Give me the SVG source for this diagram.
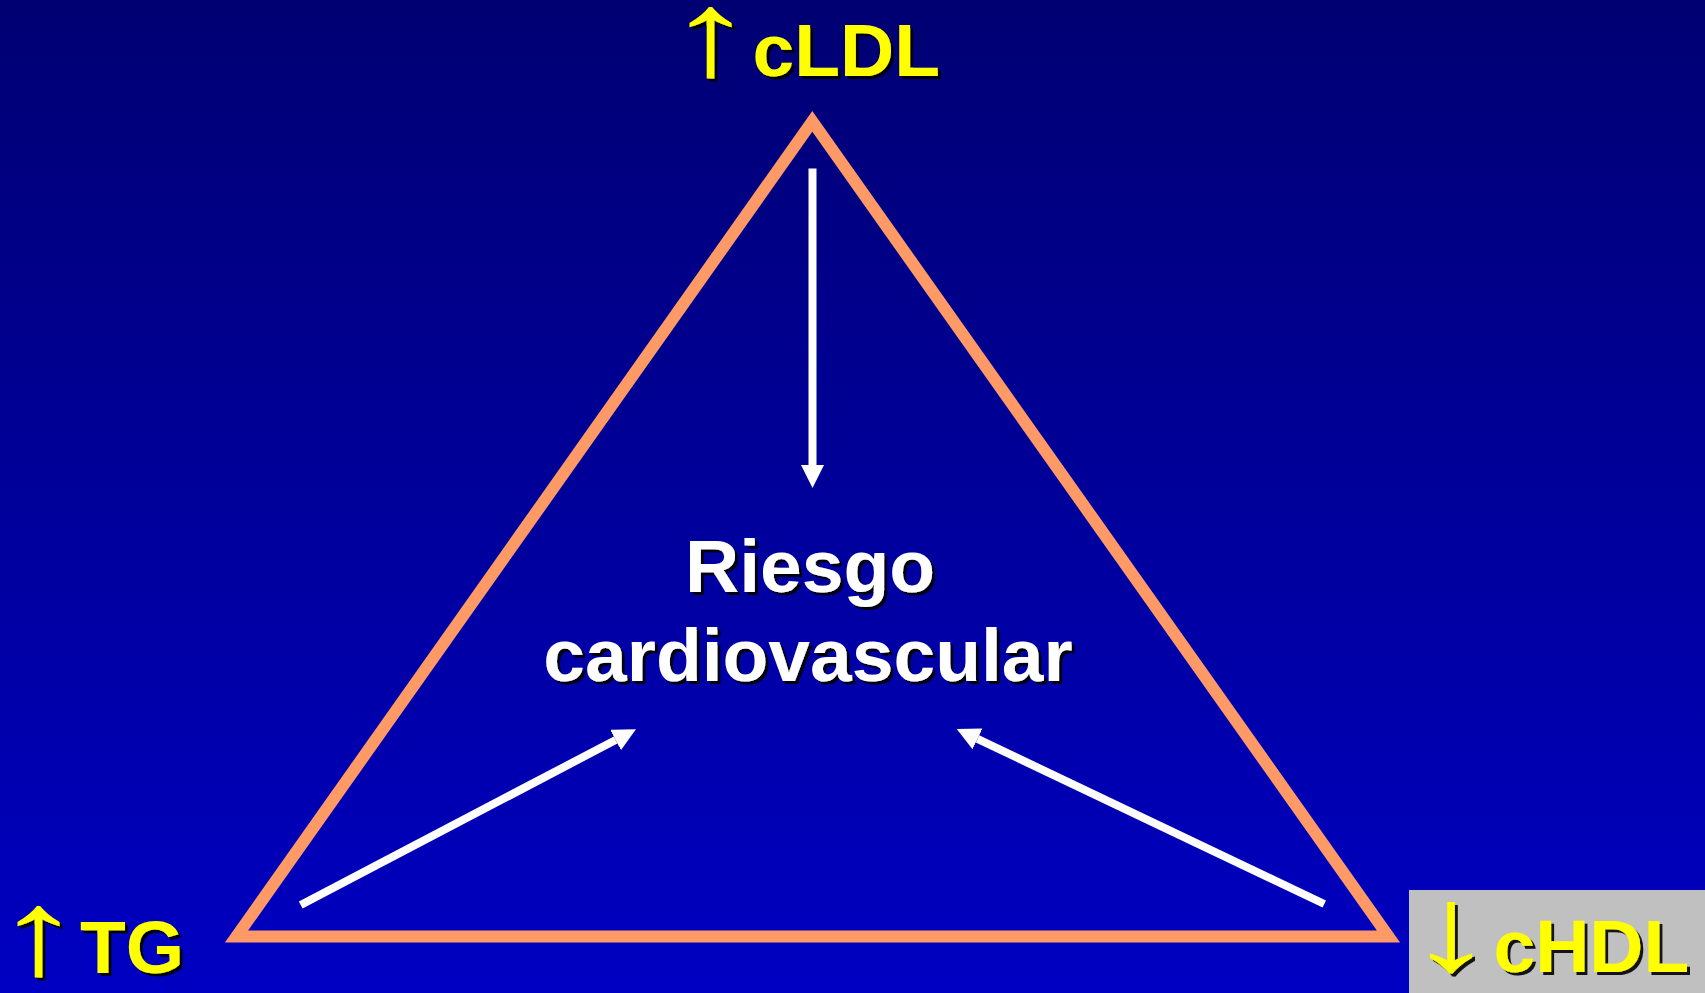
<svg xmlns="http://www.w3.org/2000/svg" width="1705" height="993" viewBox="0 0 1705 993">
<defs>
<linearGradient id="bg" x1="0" y1="0" x2="0" y2="1">
<stop offset="0" stop-color="#000072"/>
<stop offset="1" stop-color="#0000C2"/>
</linearGradient>
<filter id="sh" x="-20%" y="-10%" width="140%" height="130%">
<feDropShadow dx="3" dy="3" stdDeviation="0.6" flood-color="#000000" flood-opacity="0.9"/>
</filter>
<marker id="ah" markerUnits="userSpaceOnUse" markerWidth="23" markerHeight="23" viewBox="0 0 23 23" refX="0" refY="11.5" orient="auto">
<path d="M0,0 L23,11.5 L0,23 Z" fill="#FFFFFF"/>
</marker>
</defs>
<style>
.sh{filter:url(#sh)}
.lbl{font-family:"Liberation Sans",Arial,sans-serif;font-weight:bold;font-size:75px;fill:#FFFF00}
.arw{font-family:"Liberation Sans",Arial,sans-serif;font-weight:normal;font-size:112px;fill:#FFFF00}
.ctr{font-family:"Liberation Sans",Arial,sans-serif;font-weight:bold;font-size:75px;fill:#FFFFFF}
.con{stroke:#FFFFFF;stroke-width:8;fill:none;marker-end:url(#ah)}
</style>
<rect x="0" y="0" width="1705" height="993" fill="url(#bg)"/>
<rect x="1409" y="890" width="296" height="103" fill="#C0C0C0"/>
<g id="triangle">
<polygon points="236.5,936.5 812.3,121.4 1388.5,936.5" fill="none" stroke="#FF9966" stroke-width="12" stroke-linejoin="miter" stroke-miterlimit="10"/>
</g>
<g id="connectors">
<line class="con" x1="812.5" y1="168.5" x2="812.5" y2="465"/>
<line class="con" x1="300.7" y1="905" x2="615.6" y2="740"/>
<line class="con" x1="1324.3" y1="904" x2="977.5" y2="738.9"/>
</g>
<g id="node-cldl" class="sh">
<text class="arw" text-anchor="middle" transform="translate(710.3,75) scale(1.6,1.08)">↑</text>
<text class="lbl" x="752.5" y="76">cLDL</text>
</g>
<g id="node-riesgo" class="sh">
<text class="ctr" x="810" y="592" text-anchor="middle">Riesgo</text>
<text class="ctr" x="808" y="681" text-anchor="middle">cardiovascular</text>
</g>
<g id="node-tg" class="sh">
<text class="arw" text-anchor="middle" transform="translate(38.3,974) scale(1.6,1.08)">↑</text>
<text class="lbl" x="80" y="973">TG</text>
</g>
<g id="node-chdl" class="sh">
<text class="arw" text-anchor="middle" transform="translate(1450.8,970) scale(1.6,1.08)">↓</text>
<text class="lbl" x="1493.5" y="971.7">cHDL</text>
</g>
</svg>
